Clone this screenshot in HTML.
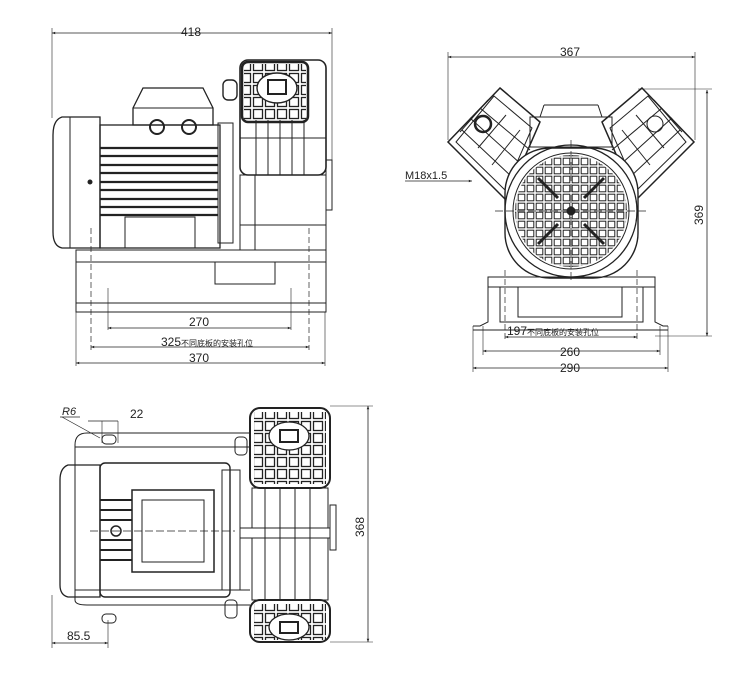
<!DOCTYPE html>
<html><head><meta charset="utf-8"><style>
html,body{margin:0;padding:0;background:#fff;}
svg{display:block}
text{font-family:"Liberation Sans","Noto Sans CJK SC",sans-serif;fill:#222}
</style></head><body>
<svg width="750" height="684" viewBox="0 0 750 684" xmlns="http://www.w3.org/2000/svg">
<defs>
<marker id="a" viewBox="0 0 10 10" refX="10" refY="5" markerWidth="8" markerHeight="4" orient="auto-start-reverse"><path d="M0,1 L10,5 L0,9z" fill="#222"/></marker>
<pattern id="grid" width="9" height="9" patternUnits="userSpaceOnUse" x="562" y="202"><rect x="1.2" y="1.2" width="6.6" height="6.6" fill="none" stroke="#222" stroke-width="1"/></pattern>
<pattern id="hg" width="12" height="12" patternUnits="userSpaceOnUse"><rect x="1.5" y="1.5" width="9" height="9" fill="none" stroke="#222" stroke-width="1.3"/></pattern>
<clipPath id="fc"><circle cx="571" cy="211" r="56"/></clipPath>
</defs>
<g fill="none" stroke="#222" stroke-width="1">
<!-- ===== VIEW 1 (side) ===== -->
<line x1="52" y1="33" x2="332" y2="33" marker-start="url(#a)" marker-end="url(#a)" stroke-width="0.8"/>
<line x1="52" y1="28" x2="52" y2="118" stroke-width="0.6"/>
<line x1="332" y1="28" x2="332" y2="160" stroke-width="0.6"/>
<path d="M100,117 L62,117 Q53,120 53,135 L53,232 Q53,246 62,248 L100,248 Z" stroke-width="1.3"/>
<line x1="70" y1="117" x2="70" y2="248"/>
<rect x="100" y="125" width="120" height="123" stroke-width="1.3"/>
<g stroke-width="2.2">
<line x1="100" y1="148" x2="218" y2="148"/><line x1="100" y1="156" x2="218" y2="156"/><line x1="100" y1="165" x2="218" y2="165"/><line x1="100" y1="173" x2="218" y2="173"/><line x1="100" y1="182" x2="218" y2="182"/><line x1="100" y1="190" x2="218" y2="190"/><line x1="100" y1="199" x2="218" y2="199"/><line x1="100" y1="207" x2="218" y2="207"/><line x1="100" y1="215" x2="218" y2="215"/>
</g>
<rect x="125" y="217" width="70" height="31"/>
<path d="M133,108 L143,88 L203,88 L213,108 L213,125 L133,125 Z" stroke-width="1.3"/>
<line x1="133" y1="108" x2="213" y2="108"/>
<circle cx="157" cy="127" r="7" stroke-width="2"/><circle cx="189" cy="127" r="7" stroke-width="2"/>
<rect x="218" y="123" width="15" height="120"/>
<rect x="240" y="60" width="86" height="115" rx="8" stroke-width="1.6"/>
<rect x="242" y="62" width="66" height="60" rx="6" stroke-width="2.5"/>
<rect x="244" y="64" width="62" height="56" fill="url(#hg)" stroke="none"/>
<ellipse cx="277" cy="88" rx="20" ry="15" stroke-width="1.4" fill="#fff"/>
<rect x="268" y="80" width="18" height="14" stroke-width="2"/>
<line x1="256" y1="120" x2="256" y2="175"/><line x1="268" y1="120" x2="268" y2="175"/><line x1="280" y1="120" x2="280" y2="175"/><line x1="292" y1="120" x2="292" y2="175"/><line x1="304" y1="120" x2="304" y2="175"/>
<line x1="240" y1="138" x2="326" y2="138"/>
<rect x="223" y="80" width="14" height="20" rx="5" stroke-width="1.4"/>
<rect x="240" y="175" width="86" height="75"/>
<line x1="255" y1="175" x2="255" y2="250"/>
<line x1="240" y1="225" x2="326" y2="225"/>
<rect x="326" y="160" width="6" height="50"/>
<rect x="76" y="250" width="250" height="12"/>
<rect x="76" y="262" width="250" height="41"/>
<rect x="76" y="303" width="250" height="9"/>
<rect x="215" y="262" width="60" height="22"/>
<g stroke-dasharray="6,3" stroke-width="0.7"><line x1="91" y1="228" x2="91" y2="350"/><line x1="309" y1="228" x2="309" y2="350"/></g>
<line x1="108" y1="288" x2="108" y2="330" stroke-width="0.6"/><line x1="291" y1="288" x2="291" y2="330" stroke-width="0.6"/>
<line x1="76" y1="312" x2="76" y2="366" stroke-width="0.6"/><line x1="325" y1="312" x2="325" y2="366" stroke-width="0.6"/>
<line x1="108" y1="328" x2="291" y2="328" marker-start="url(#a)" marker-end="url(#a)" stroke-width="0.8"/>
<line x1="91" y1="347" x2="309" y2="347" marker-start="url(#a)" marker-end="url(#a)" stroke-width="0.8"/>
<line x1="76" y1="363" x2="325" y2="363" marker-start="url(#a)" marker-end="url(#a)" stroke-width="0.8"/>
<circle cx="90" cy="182" r="2" fill="#222"/>

<!-- ===== VIEW 2 (end) ===== -->
<line x1="448" y1="57" x2="695" y2="57" marker-start="url(#a)" marker-end="url(#a)" stroke-width="0.8"/>
<line x1="448" y1="52" x2="448" y2="140" stroke-width="0.6"/>
<line x1="695" y1="52" x2="695" y2="140" stroke-width="0.6"/>
<line x1="707" y1="90" x2="707" y2="336" marker-start="url(#a)" marker-end="url(#a)" stroke-width="0.8"/>
<line x1="638" y1="89" x2="712" y2="89" stroke-width="0.6"/>
<line x1="655" y1="336" x2="712" y2="336" stroke-width="0.6"/>
<polygon points="500,88 540,122 506,200 448,142" stroke-width="1.5"/>
<polygon points="494,96 532,128 505,190 456,142"/>
<line x1="470" y1="118" x2="522" y2="165"/><line x1="480" y1="108" x2="530" y2="150"/><line x1="462" y1="130" x2="513" y2="178"/>
<line x1="488" y1="100" x2="460" y2="132"/><line x1="506" y1="115" x2="478" y2="148"/><line x1="520" y1="130" x2="492" y2="165"/>
<circle cx="483" cy="124" r="8" stroke-width="2.5"/>
<polygon points="642,88 602,122 636,200 694,142" stroke-width="1.5"/>
<polygon points="648,96 610,128 637,190 686,142"/>
<line x1="672" y1="118" x2="620" y2="165"/><line x1="662" y1="108" x2="612" y2="150"/><line x1="680" y1="130" x2="629" y2="178"/>
<line x1="654" y1="100" x2="682" y2="132"/><line x1="636" y1="115" x2="664" y2="148"/><line x1="622" y1="130" x2="650" y2="165"/>
<circle cx="655" cy="124" r="8"/>
<rect x="530" y="117" width="82" height="30"/>
<line x1="540" y1="117" x2="544" y2="105"/><line x1="602" y1="117" x2="598" y2="105"/><line x1="544" y1="105" x2="598" y2="105"/>
<rect x="505" y="148" width="133" height="130" rx="45" stroke-width="1.4" fill="#fff"/>
<circle cx="571" cy="211" r="66" stroke-width="1.3"/>
<circle cx="571" cy="211" r="58"/>
<rect x="510" y="150" width="122" height="122" fill="url(#grid)" stroke="none" clip-path="url(#fc)"/>
<g stroke-width="3"><line x1="538" y1="178" x2="558" y2="198"/><line x1="604" y1="178" x2="584" y2="198"/><line x1="538" y1="244" x2="558" y2="224"/><line x1="604" y1="244" x2="584" y2="224"/></g>
<circle cx="571" cy="211" r="4" fill="#222"/>
<g stroke-dasharray="8,3" stroke-width="0.7"><line x1="495" y1="211" x2="647" y2="211"/><line x1="571" y1="140" x2="571" y2="282"/></g>
<rect x="488" y="277" width="167" height="10"/>
<rect x="500" y="287" width="143" height="35"/>
<rect x="518" y="287" width="104" height="30"/>
<path d="M488,287 L488,322 L480,326 L473,326 M655,287 L655,322 L663,326 L668,326"/>
<line x1="473" y1="330" x2="668" y2="330"/>
<g stroke-dasharray="6,3" stroke-width="0.7"><line x1="505" y1="270" x2="505" y2="340"/><line x1="637" y1="270" x2="637" y2="340"/></g>
<line x1="473" y1="326" x2="473" y2="372" stroke-width="0.6"/><line x1="668" y1="326" x2="668" y2="372" stroke-width="0.6"/>
<line x1="483" y1="326" x2="483" y2="355" stroke-width="0.6"/><line x1="660" y1="326" x2="660" y2="355" stroke-width="0.6"/>
<line x1="505" y1="337" x2="637" y2="337" marker-start="url(#a)" marker-end="url(#a)" stroke-width="0.8"/>
<line x1="483" y1="351" x2="660" y2="351" marker-start="url(#a)" marker-end="url(#a)" stroke-width="0.8"/>
<line x1="473" y1="368" x2="668" y2="368" marker-start="url(#a)" marker-end="url(#a)" stroke-width="0.8"/>
<line x1="405" y1="181" x2="472" y2="181" marker-end="url(#a)" stroke-width="0.8"/>

<!-- ===== VIEW 3 (top) ===== -->
<line x1="62" y1="417" x2="100" y2="438" stroke-width="0.7"/>
<line x1="60" y1="417" x2="80" y2="417" stroke-width="0.7"/>
<line x1="88" y1="421" x2="118" y2="421" stroke-width="0.7"/>
<line x1="102" y1="421" x2="102" y2="443" stroke-width="0.6"/><line x1="118" y1="421" x2="118" y2="443" stroke-width="0.6"/>
<path d="M75,445 Q75,433 87,433 L250,433 M75,445 L75,600 Q75,605 87,605 L250,605"/>
<line x1="75" y1="447" x2="250" y2="447"/><line x1="75" y1="590" x2="250" y2="590"/>
<rect x="102" y="435" width="14" height="9" rx="4"/><rect x="102" y="614" width="14" height="9" rx="4"/>
<path d="M100,465 L68,465 Q60,468 60,480 L60,585 Q60,595 68,597 L100,597 Z" stroke-width="1.3"/>
<rect x="100" y="463" width="130" height="134" rx="5" stroke-width="1.4"/>
<rect x="132" y="490" width="82" height="82" stroke-width="1.5"/>
<rect x="142" y="500" width="62" height="62"/>
<g stroke-width="2"><line x1="100" y1="500" x2="132" y2="500"/><line x1="100" y1="510" x2="132" y2="510"/><line x1="100" y1="520" x2="132" y2="520"/><line x1="100" y1="540" x2="132" y2="540"/><line x1="100" y1="550" x2="132" y2="550"/><line x1="100" y1="560" x2="132" y2="560"/></g>
<circle cx="116" cy="531" r="5" stroke-width="1.5"/>
<rect x="222" y="470" width="18" height="120"/>
<line x1="90" y1="531" x2="235" y2="531" stroke-dasharray="8,3" stroke-width="0.7"/>
<rect x="250" y="408" width="80" height="80" rx="10" stroke-width="2"/>
<rect x="254" y="412" width="72" height="72" fill="url(#hg)" stroke="none"/>
<ellipse cx="289" cy="436" rx="20" ry="14" stroke-width="1.3" fill="#fff"/><rect x="280" y="430" width="18" height="12" stroke-width="2"/>
<rect x="252" y="488" width="76" height="40"/>
<line x1="265" y1="488" x2="265" y2="600"/><line x1="280" y1="488" x2="280" y2="600"/><line x1="295" y1="488" x2="295" y2="600"/><line x1="310" y1="488" x2="310" y2="600"/>
<rect x="240" y="528" width="90" height="10"/>
<rect x="252" y="538" width="76" height="62"/>
<rect x="250" y="600" width="80" height="42" rx="10" stroke-width="2"/>
<rect x="254" y="604" width="72" height="36" fill="url(#hg)" stroke="none"/>
<ellipse cx="289" cy="627" rx="20" ry="13" stroke-width="1.3" fill="#fff"/><rect x="280" y="622" width="18" height="11" stroke-width="2"/>
<rect x="330" y="505" width="6" height="45"/>
<rect x="235" y="437" width="12" height="18" rx="4"/><rect x="225" y="600" width="12" height="18" rx="4"/>
<line x1="330" y1="406" x2="373" y2="406" stroke-width="0.6"/><line x1="330" y1="642" x2="373" y2="642" stroke-width="0.6"/>
<line x1="368" y1="406" x2="368" y2="642" marker-start="url(#a)" marker-end="url(#a)" stroke-width="0.8"/>
<line x1="52" y1="595" x2="52" y2="648" stroke-width="0.6"/><line x1="108" y1="620" x2="108" y2="648" stroke-width="0.6"/>
<line x1="52" y1="643" x2="108" y2="643" marker-start="url(#a)" marker-end="url(#a)" stroke-width="0.8"/>
</g>
<g font-size="12">
<text x="181" y="36">418</text>
<text x="189" y="326">270</text>
<text x="161" y="346">325<tspan font-size="8">不同底板的安装孔位</tspan></text>
<text x="189" y="362">370</text>
<text x="560" y="56">367</text>
<text x="405" y="179" font-size="11">M18x1.5</text>
<text x="507" y="335">197<tspan font-size="8">不同底板的安装孔位</tspan></text>
<text x="560" y="356">260</text>
<text x="560" y="372">290</text>
<text transform="translate(703,225) rotate(-90)">369</text>
<text x="62" y="415" font-size="11" font-style="italic">R6</text>
<text x="130" y="418">22</text>
<text transform="translate(364,537) rotate(-90)">368</text>
<text x="67" y="640">85.5</text>
</g>
</svg>
</body></html>
